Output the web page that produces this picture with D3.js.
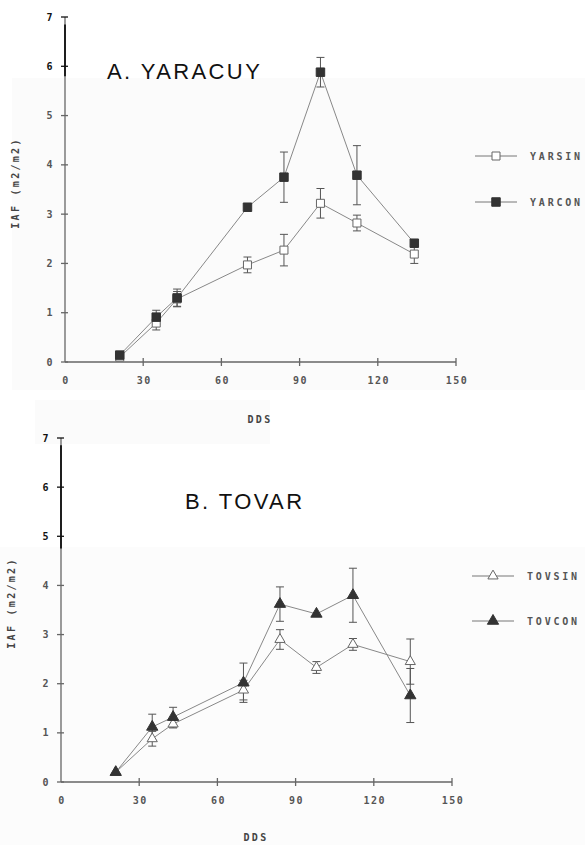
<!DOCTYPE html>
<html>
<head>
<meta charset="utf-8">
<script src="https://cdn.jsdelivr.net/npm/d3@7"></script>
<style>
  body { margin: 0; background: #fff; }
  svg { display: block; }
  .tick-label { font-family: "DejaVu Sans Mono", monospace; font-weight: bold; font-size: 10px; fill: #555; letter-spacing: 1.5px; }
  .axis-label { font-family: "DejaVu Sans Mono", monospace; font-weight: bold; font-size: 10px; fill: #444; letter-spacing: 2.3px; }
  .legend-label { font-family: "DejaVu Sans Mono", monospace; font-weight: bold; font-size: 10px; fill: #555; letter-spacing: 2.8px; }
  .title { font-family: "Liberation Sans", Arial, sans-serif; font-size: 22px; fill: #111; letter-spacing: 2.4px; }
</style>
</head>
<body>
<script>
// days after sowing (DDS)
var days = [21, 35, 43, 70, 84, 98, 112, 134]

// A. YARACUY
var yarsin = [0.10, 0.79, 1.28, 1.97, 2.27, 3.22, 2.82, 2.19]
var yarsinErr = [0.03, 0.14, 0.15, 0.16, 0.32, 0.30, 0.16, 0.19]
var yarcon = [0.14, 0.91, 1.30, 3.14, 3.75, 5.88, 3.79, 2.41]
var yarconErr = [0.03, 0.14, 0.18, 0.05, 0.51, 0.30, 0.60, 0.05]

// B. TOVAR
var tovsin = [0.20, 0.88, 1.18, 1.87, 2.90, 2.33, 2.80, 2.45]
var tovsinErr = [0.03, 0.15, 0.08, 0.20, 0.20, 0.12, 0.12, 0.46]
var tovcon = [0.20, 1.12, 1.32, 2.02, 3.62, 3.42, 3.80, 1.76]
var tovconErr = [0.03, 0.26, 0.20, 0.40, 0.35, 0.05, 0.55, 0.55]

var xTicks = [0, 30, 60, 90, 120, 150]
var yTicks = [0, 1, 2, 3, 4, 5, 6, 7]

var svg = d3.select("body").append("svg")
    .attr("width", 585)
    .attr("height", 845)

// faint scan background
svg.append("rect").attr("x", 12).attr("y", 78).attr("width", 573).attr("height", 312).attr("fill", "#fbfbfb")
svg.append("rect").attr("x", 35).attr("y", 400).attr("width", 235).attr("height", 44).attr("fill", "#fbfbfb")
svg.append("rect").attr("x", 0).attr("y", 547).attr("width", 585).attr("height", 298).attr("fill", "#fcfcfc")

function panel(opt) {
  var x = d3.scaleLinear().domain([0, 150]).range([opt.x0, opt.x1])
  var y = d3.scaleLinear().domain([0, 7]).range([opt.y0, opt.y1])
  var g = svg.append("g")

  // axes
  g.append("line")
    .attr("x1", x(0)).attr("x2", x(0))
    .attr("y1", y(0)).attr("y2", y(7))
    .attr("stroke", "#666").attr("stroke-width", 1.3)
  g.append("line")
    .attr("x1", x(0)).attr("x2", x(0))
    .attr("y1", y(opt.darkFrom)).attr("y2", y(6.85))
    .attr("stroke", "#111").attr("stroke-width", 1.8)
  g.append("line")
    .attr("x1", x(0)).attr("x2", x(150))
    .attr("y1", y(0)).attr("y2", y(0))
    .attr("stroke", "#666").attr("stroke-width", 1.3)

  g.selectAll(".ytick").data(yTicks).enter().append("line")
    .attr("x1", x(0) - 4).attr("x2", x(0) + 3)
    .attr("y1", d => y(d)).attr("y2", d => y(d))
    .attr("stroke", d => d >= opt.darkFrom ? "#111" : "#666").attr("stroke-width", 1.3)
  g.selectAll(".xtick").data(xTicks.slice(1)).enter().append("line")
    .attr("x1", d => x(d)).attr("x2", d => x(d))
    .attr("y1", y(0) - 4).attr("y2", y(0) + 4)
    .attr("stroke", "#666").attr("stroke-width", 1.3)

  g.selectAll(".ylab").data(yTicks).enter().append("text")
    .attr("class", "tick-label")
    .attr("x", x(0) - 11).attr("y", d => y(d) + 3.5)
    .attr("text-anchor", "end")
    .style("fill", d => d >= opt.darkFrom ? "#111" : "#555")
    .text(d => d)
  g.selectAll(".xlab").data(xTicks).enter().append("text")
    .attr("class", "tick-label")
    .attr("x", d => x(d) + 1).attr("y", y(0) + 22)
    .attr("text-anchor", "middle")
    .text(d => d)

  g.append("text").attr("class", "axis-label")
    .attr("transform", "translate(" + opt.ylabX + "," + opt.ylabY + ") rotate(-90)")
    .attr("text-anchor", "middle")
    .text("IAF (m2/m2)")
  g.append("text").attr("class", "axis-label")
    .attr("x", opt.xlabX).attr("y", opt.xlabY)
    .attr("text-anchor", "middle")
    .text("DDS")

  g.append("text").attr("class", "title")
    .attr("x", opt.titleX).attr("y", opt.titleY)
    .text(opt.title)

  var line = d3.line()
    .x((d, i) => x(days[i]))
    .y(d => y(d))

  opt.series.forEach(function(s) {
    g.append("path")
      .attr("d", line(s.values))
      .attr("fill", "none")
      .attr("stroke", "#888")
      .attr("stroke-width", 1)

    var eb = g.append("g")
    s.values.forEach(function(v, i) {
      var e = s.err[i]
      if (e < 0.06) return
      var cx = x(days[i])
      eb.append("line").attr("x1", cx).attr("x2", cx).attr("y1", y(v - e)).attr("y2", y(v + e))
        .attr("stroke", "#555").attr("stroke-width", 1)
      ;[v - e, v + e].forEach(function(w) {
        eb.append("line").attr("x1", cx - 4).attr("x2", cx + 4).attr("y1", y(w)).attr("y2", y(w))
          .attr("stroke", "#555").attr("stroke-width", 1)
      })
    })
  })

  opt.series.forEach(function(s) {
    g.selectAll(null).data(s.values).enter().append("path")
      .attr("transform", (d, i) => "translate(" + x(days[i]) + "," + y(d) + ")")
      .attr("d", d3.symbol().type(s.symbol).size(s.size))
      .attr("fill", s.filled ? "#333" : "#fff")
      .attr("stroke", s.filled ? "#333" : "#666")
      .attr("stroke-width", 1)
  })

  // legend
  var lg = g.selectAll(".legend").data(opt.series).enter().append("g")
    .attr("transform", (d, i) => "translate(0," + (opt.legY + i * opt.legGap) + ")")
  lg.append("line").attr("x1", opt.legX).attr("x2", opt.legX + 42)
    .attr("stroke", "#777").attr("stroke-width", 1)
  lg.append("path")
    .attr("transform", "translate(" + (opt.legX + 21) + ",0)")
    .attr("d", d => d3.symbol().type(d.symbol).size(d.size)())
    .attr("fill", d => d.filled ? "#333" : "#fff")
    .attr("stroke", d => d.filled ? "#333" : "#666")
  lg.append("text").attr("class", "legend-label")
    .attr("x", opt.legX + 55).attr("y", 4)
    .text(d => d.name)
}

panel({
  x0: 65, x1: 456, y0: 362, y1: 17, darkFrom: 5.8,
  ylabX: 19, ylabY: 183, xlabX: 260, xlabY: 423,
  title: "A. YARACUY", titleX: 107, titleY: 79,
  legX: 475, legY: 156, legGap: 46,
  series: [
    {name: "YARSIN", values: yarsin, err: yarsinErr, symbol: d3.symbolSquare, size: 64, filled: false},
    {name: "YARCON", values: yarcon, err: yarconErr, symbol: d3.symbolSquare, size: 72, filled: true}
  ]
})

panel({
  x0: 61, x1: 452, y0: 782, y1: 438, darkFrom: 4.75,
  ylabX: 15, ylabY: 603, xlabX: 256, xlabY: 841,
  title: "B. TOVAR", titleX: 185, titleY: 509,
  legX: 472, legY: 576, legGap: 45,
  series: [
    {name: "TOVSIN", values: tovsin, err: tovsinErr, symbol: d3.symbolTriangle, size: 45, filled: false},
    {name: "TOVCON", values: tovcon, err: tovconErr, symbol: d3.symbolTriangle, size: 55, filled: true}
  ]
})
</script>
</body>
</html>
